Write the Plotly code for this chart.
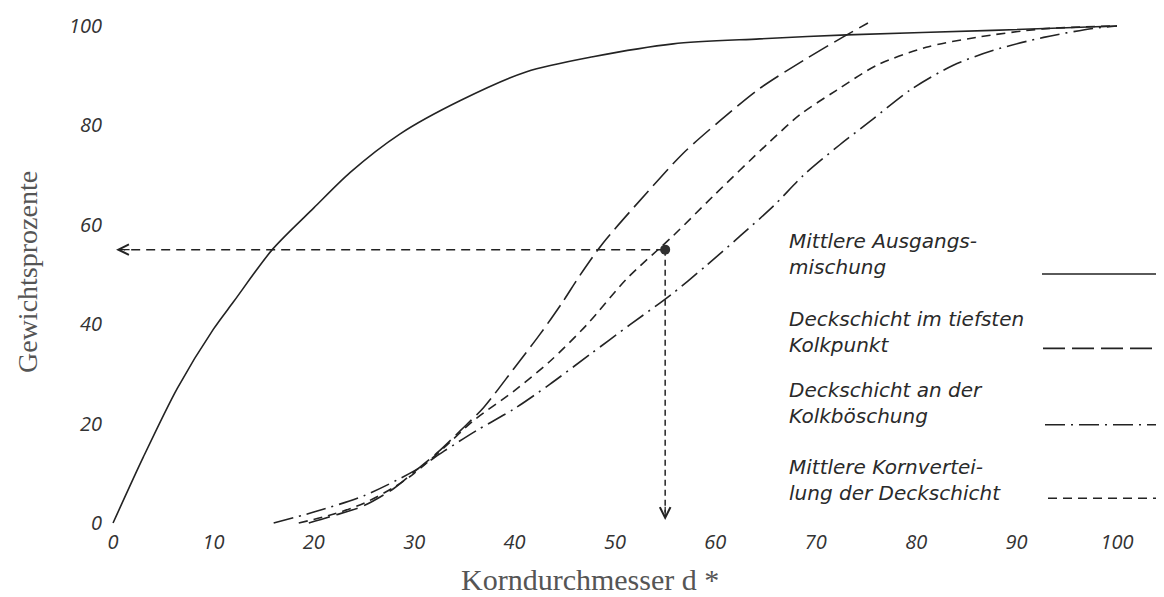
import plotly.graph_objects as go

# ---- data ----
x_ausgang = [0, 3, 6.4, 10, 12, 15.9, 20, 23.6, 28.6, 34.6, 41.2, 47.8, 55.8, 64.4, 73.1, 87.6, 100]
y_ausgang = [0, 13.2, 27.1, 39, 44.5, 55.1, 63.4, 70.5, 78.3, 85, 90.8, 93.8, 96.4, 97.4, 98.2, 99.1, 100]

x_tiefst = [19.5, 22, 25, 28, 30, 32.5, 34.6, 36.9, 39.9, 42.5, 44.8, 46.5, 48.8, 53.2, 56.8, 60.5, 64.4, 68.8, 72.4, 75.2]
y_tiefst = [0, 1.5, 3.5, 7, 10.3, 14.5, 18.6, 23.2, 31, 37.9, 44.5, 49.8, 56.3, 66.5, 74.4, 81, 87.4, 93.1, 97.4, 100.6]

x_boeschung = [16, 20, 25, 30, 33, 36.2, 39.9, 43.5, 47.5, 51.5, 55.5, 59.1, 62.5, 65.8, 68.8, 72.4, 75.4, 79.4, 83.7, 87.7, 92.7, 97.6, 100]
y_boeschung = [0, 2.2, 5.5, 10.5, 14.5, 18.6, 22.9, 27.9, 33.9, 39.9, 45.8, 51.8, 57.8, 63.8, 70, 76.1, 80.8, 87.1, 92.1, 95.1, 97.7, 99.5, 100]

x_mittel = [18.5, 22, 25, 28, 30, 33, 35.9, 39.9, 43.5, 47.2, 51.2, 55.8, 59.8, 65.1, 68.4, 72.1, 76.1, 81, 86, 92.6, 100]
y_mittel = [0, 1.8, 4, 7.2, 10, 15.2, 20.6, 26.5, 32.5, 39.9, 49.2, 57.8, 65.8, 76.1, 82.1, 87.1, 92.1, 95.7, 97.7, 99.4, 100]

point_x = [55]
point_y = [55]
arrow_end_x = 0.3
arrow_end_y = 0.6

x_ticks = [0, 10, 20, 30, 40, 50, 60, 70, 80, 90, 100]
y_ticks = [0, 20, 40, 60, 80, 100]

legend_lines = [
    ["Mittlere Ausgangs-", "mischung"],
    ["Deckschicht im tiefsten", "Kolkpunkt"],
    ["Deckschicht an der", "Kolkböschung"],
    ["Mittlere Kornvertei-", "lung der Deckschicht"],
]

INK = "#232323"
HAND = dict(family="DejaVu Sans, Open Sans, sans-serif", size=20, color="#2a2a2a", style="italic")
TICKS = dict(family="Open Sans, DejaVu Sans, sans-serif", size=20, color="#333333", style="italic")
SERIF_X = dict(family="Liberation Serif, DejaVu Serif, serif", size=30, color="#555555")
SERIF_Y = dict(family="Liberation Serif, DejaVu Serif, serif", size=28, color="#555555")

dash_styles = ["solid", "22px,7px", "20px,6px,2px,6px", "9px,6px"]

fig = go.Figure()
series = [(x_ausgang, y_ausgang), (x_tiefst, y_tiefst), (x_boeschung, y_boeschung), (x_mittel, y_mittel)]
for (xs, ys), lines, dash in zip(series, legend_lines, dash_styles):
    name = " ".join(lines).replace("- ", "")
    fig.add_trace(go.Scatter(x=xs, y=ys, mode="lines", name=name,
                             line=dict(color=INK, width=1.6, dash=dash, shape="spline", smoothing=0.8),
                             showlegend=False, cliponaxis=False))

# dashed guide lines from the marked point
fig.add_trace(go.Scatter(x=[point_x[0], arrow_end_x + 0.8], y=[point_y[0], point_y[0]], mode="lines",
                         line=dict(color=INK, width=1.5, dash="9px,6px"), showlegend=False))
fig.add_trace(go.Scatter(x=[point_x[0], point_x[0]], y=[point_y[0], arrow_end_y + 1.5], mode="lines",
                         line=dict(color=INK, width=1.5, dash="6px,4px"), showlegend=False))
fig.add_trace(go.Scatter(x=point_x, y=point_y, mode="markers",
                         marker=dict(color="#303030", size=10), showlegend=False))

# arrow heads
fig.add_annotation(x=arrow_end_x, y=point_y[0], ax=arrow_end_x + 1.5, ay=point_y[0],
                   xref="x", yref="y", axref="x", ayref="y", text="", showarrow=True,
                   arrowhead=5, arrowsize=1.6, arrowwidth=1.3, arrowcolor=INK)
fig.add_annotation(x=point_x[0], y=arrow_end_y, ax=point_x[0], ay=arrow_end_y + 3,
                   xref="x", yref="y", axref="x", ayref="y", text="", showarrow=True,
                   arrowhead=5, arrowsize=1.6, arrowwidth=1.3, arrowcolor=INK)

# layout geometry (page body adds an 8px offset)
OFF = 8
W, H = 1156, 589
L, R, T, B = 95, 27, 4, 69
pw, ph = W - L - R, H - T - B
def px_x(p): return (p - OFF - L) / pw
def px_y(p): return (H - B - (p - OFF)) / ph

# hand-drawn style legend (text left, line sample right)
text_y = [252, 330, 402, 480]
line_y = [272, 347, 424, 498]
line_x0 = [1042, 1043, 1045, 1048]
line_x1 = [1164, 1164, 1160, 1156]
for lines, ty, ly, dash, x0, x1 in zip(legend_lines, text_y, line_y, dash_styles, line_x0, line_x1):
    fig.add_annotation(x=px_x(787), y=px_y(ty), xref="paper", yref="paper", text="<br>".join(lines),
                       showarrow=False, xanchor="left", yanchor="middle", align="left",
                       font=HAND)
    fig.add_shape(type="line", xref="paper", yref="paper", x0=px_x(x0), x1=px_x(x1),
                  y0=px_y(ly), y1=px_y(ly), line=dict(color=INK, width=1.6, dash=dash))

# axis titles
fig.add_annotation(x=px_x(590), y=px_y(580), xref="paper", yref="paper", text="Korndurchmesser d *",
                   showarrow=False, xanchor="center", yanchor="middle", font=SERIF_X)
fig.add_annotation(x=px_x(27), y=px_y(270), xref="paper", yref="paper", text="Gewichtsprozente",
                   showarrow=False, xanchor="center", yanchor="middle", textangle=-90, font=SERIF_Y,
                   borderpad=0)

fig.update_xaxes(range=[-1, 102], tickvals=x_ticks, ticktext=[str(v) for v in x_ticks],
                 showgrid=False, zeroline=False, showline=False, ticks="",
                 tickfont=TICKS)
fig.update_yaxes(range=[-1, 102], tickvals=y_ticks, ticktext=[str(v) for v in y_ticks],
                 showgrid=False, zeroline=False, showline=False, ticks="",
                 tickfont=TICKS)

fig.update_layout(width=W, height=H, margin=dict(l=L, r=R, t=T, b=B),
                  plot_bgcolor="white", paper_bgcolor="white", showlegend=False)

fig.write_html("out.html")
